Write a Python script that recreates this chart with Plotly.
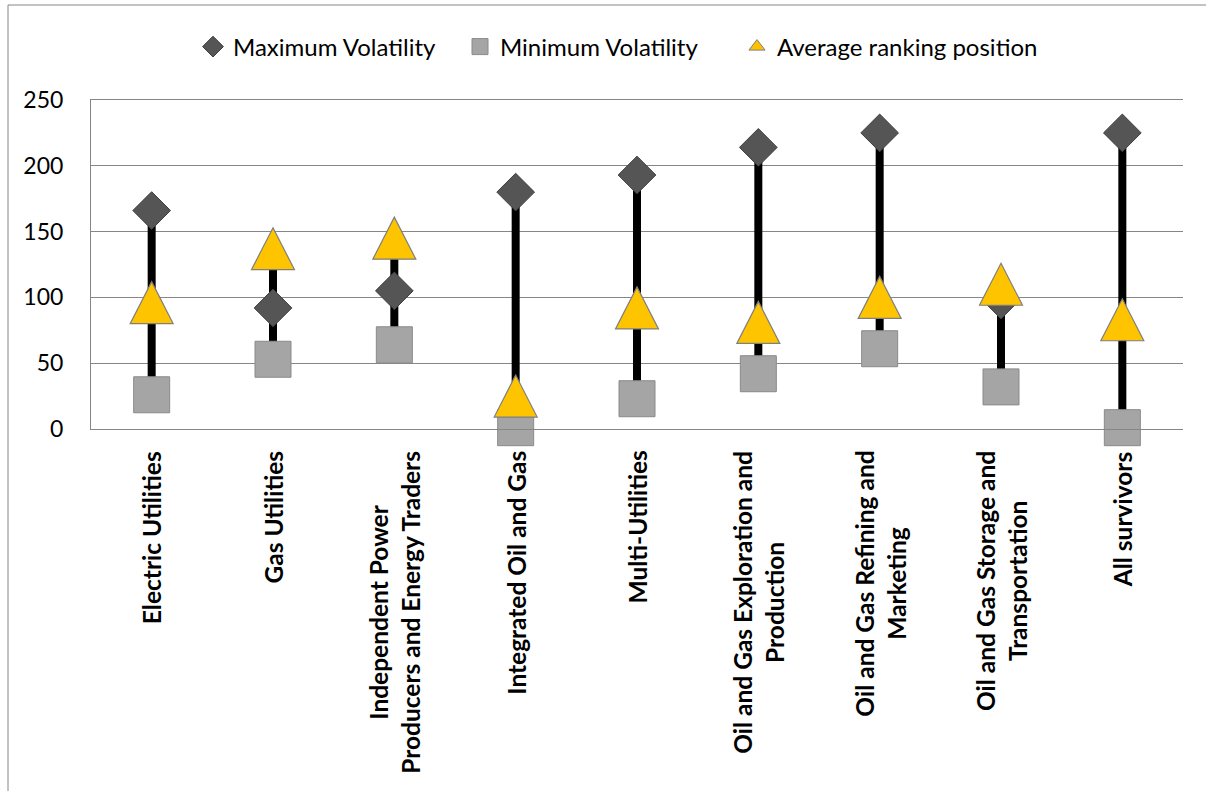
import plotly.graph_objects as go

# ---------------- data ----------------
categories = [
    "Electric Utilities",
    "Gas Utilities",
    "Independent Power Producers and Energy Traders",
    "Integrated Oil and Gas",
    "Multi-Utilities",
    "Oil and Gas Exploration and Production",
    "Oil and Gas Refining and Marketing",
    "Oil and Gas Storage and Transportation",
    "All survivors",
]
label_text = [
    "Electric Utilities",
    "Gas Utilities",
    "Independent Power<br>Producers and Energy Traders",
    "Integrated Oil and Gas",
    "Multi-Utilities",
    "Oil and Gas Exploration and<br>Production",
    "Oil and Gas Refining and<br>Marketing",
    "Oil and Gas Storage and<br>Transportation",
    "All survivors",
]
max_volatility = [166, 92, 105, 180, 193, 214, 225, 98, 225]
min_volatility = [26, 53, 64, 1, 23, 42, 61, 32, 1]
avg_ranking = [96, 137, 145, 25, 92, 81, 100, 110, 83]
y_ticks = [0, 50, 100, 150, 200, 250]

# ---------------- styling ----------------
FONT = "Lato"
GRID = "#868686"
xpos = list(range(len(categories)))

fig = go.Figure()

# high-low lines (from lowest to highest of the three series)
hx, hy = [], []
for i in xpos:
    vals = [max_volatility[i], min_volatility[i], avg_ranking[i]]
    hx += [i, i, None]
    hy += [min(vals), max(vals), None]
fig.add_trace(go.Scatter(
    x=hx, y=hy, mode="lines", line=dict(color="black", width=8),
    showlegend=False, hoverinfo="skip", cliponaxis=False,
))

fig.add_trace(go.Scatter(
    x=xpos, y=max_volatility, mode="markers", name="Maximum Volatility",
    marker=dict(symbol="diamond", size=29, color="#555555",
                line=dict(color="#3f3f3f", width=1)),
    cliponaxis=False, legend="legend",
))
fig.add_trace(go.Scatter(
    x=xpos, y=min_volatility, mode="markers", name="Minimum Volatility",
    marker=dict(symbol="square", size=36, color="#a5a5a5",
                line=dict(color="#8a8a8a", width=1)),
    cliponaxis=False, legend="legend2",
))
# legend entry for triangles (triangles drawn as anchored shapes below)
fig.add_trace(go.Scatter(
    x=[None], y=[None], mode="markers", name="Average ranking position",
    marker=dict(symbol="triangle-up", size=14, color="#ffc000",
                line=dict(color="#7f7f7f", width=1)),
    legend="legend3",
))

shapes = []
for i in xpos:
    shapes.append(dict(
        type="path", xref="x", yref="y",
        xsizemode="pixel", ysizemode="pixel",
        xanchor=i, yanchor=avg_ranking[i],
        path="M -21.5,-21 L 21.5,-21 L 0,21 Z",
        fillcolor="#ffc400", line=dict(color="#7f7f7f", width=1.2),
        layer="above",
    ))

# outer chart border
L, R, T, B = 91, 23, 100, 362
pw, ph = 1206 - L - R, 791 - T - B
bottom_px = 791 - B
shapes.append(dict(
    type="rect", xref="paper", yref="paper",
    x0=(8 - L) / pw, x1=(1215 - L) / pw,
    y0=-(800 - bottom_px) / ph, y1=(bottom_px - 5) / ph,
    line=dict(color=GRID, width=1), fillcolor="rgba(0,0,0,0)", layer="below",
))

annotations = []
for i in xpos:
    annotations.append(dict(
        x=i, y=0, xref="x", yref="y", text=label_text[i],
        textangle=-90, xanchor="center", yanchor="top", align="center",
        showarrow=False, yshift=-20,
        font=dict(family=FONT, size=24.5, color="black", weight="bold"),
    ))


def legend_at(px_left):
    return dict(orientation="h", x=(px_left - L) / pw, xanchor="left",
                y=(bottom_px - 47) / ph, yanchor="middle",
                font=dict(family=FONT, size=24, color="black"),
                itemwidth=30, bgcolor="rgba(0,0,0,0)")


fig.update_layout(
    width=1206, height=791,
    margin=dict(l=L, r=R, t=T, b=B, pad=0),
    paper_bgcolor="white", plot_bgcolor="white",
    font=dict(family=FONT, size=23, color="black"),
    shapes=shapes, annotations=annotations,
    legend=legend_at(193), legend2=legend_at(460), legend3=legend_at(737),
    showlegend=True,
)
fig.update_xaxes(
    range=[-0.5, len(categories) - 0.5], tickvals=xpos,
    showticklabels=False, showgrid=False, zeroline=False,
    showline=True, linecolor=GRID, linewidth=1, mirror=True, ticks="",
)
fig.update_yaxes(
    range=[0, 250], tickvals=y_ticks, showgrid=True, gridcolor=GRID,
    gridwidth=1, zeroline=False, showline=True, linecolor=GRID,
    ticks="", ticklabelstandoff=22,
    tickfont=dict(family=FONT, size=23, color="black"),
)
fig.write_html("out.html")
